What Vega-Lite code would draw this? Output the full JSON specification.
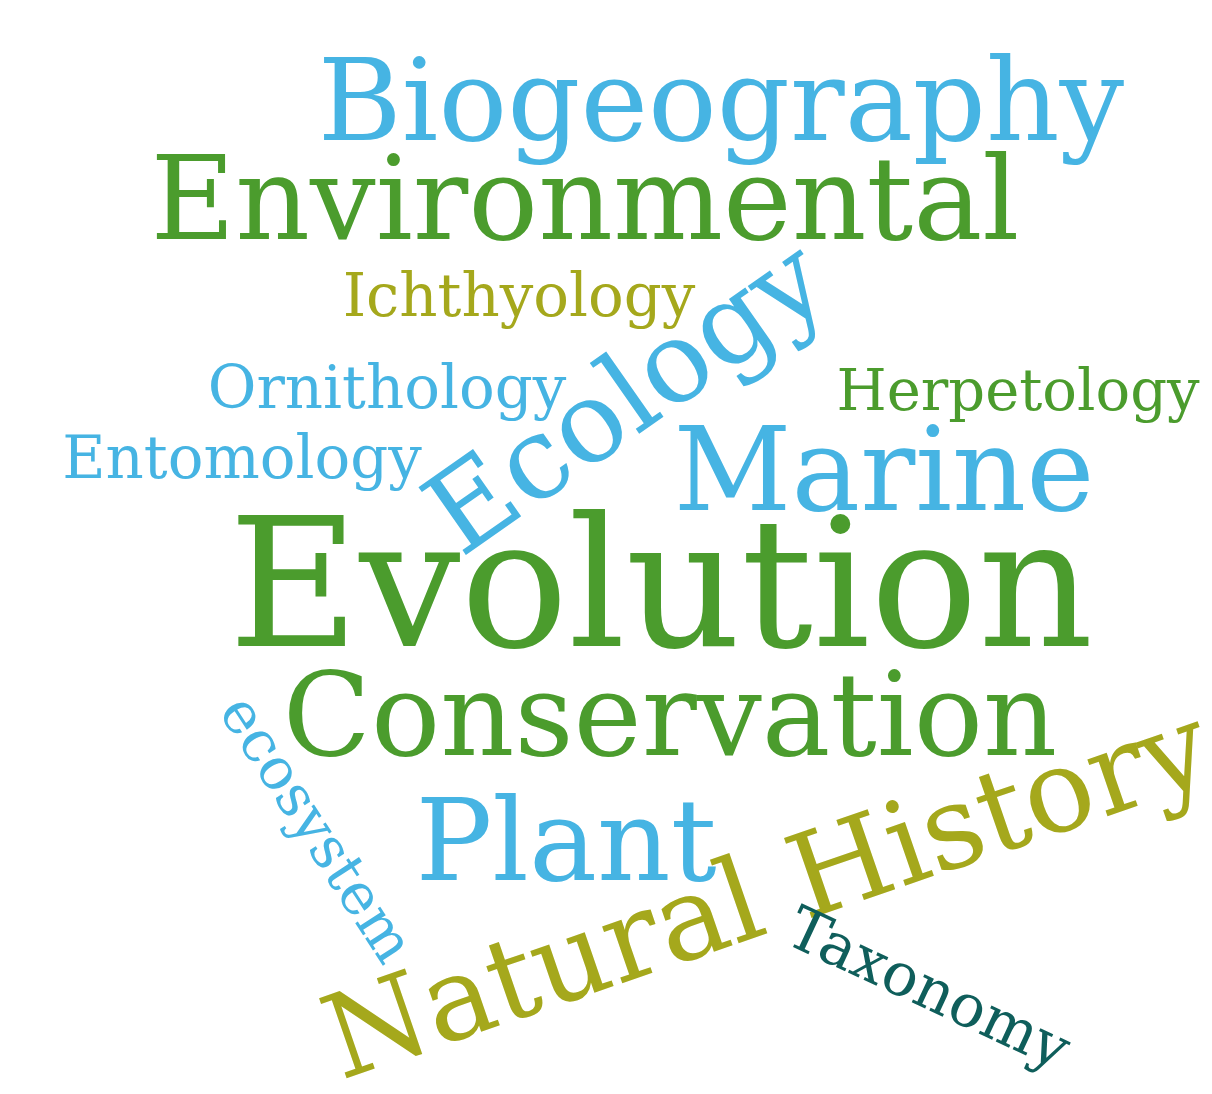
{
  "$schema": "https://vega.github.io/schema/vega-lite/v6.json",
  "width": 1212,
  "height": 1094,
  "autosize": {"type": "none"},
  "padding": 0,
  "background": "#ffffff",
  "config": {"view": {"stroke": null}},
  "data": {
    "values": [
      {"word": "Biogeography", "px": 721, "py": 106, "weight": 63.5, "angle": 0, "tone": "sky"},
      {"word": "Environmental", "px": 585, "py": 204, "weight": 64.5, "angle": 0, "tone": "leaf"},
      {"word": "Ichthyology", "px": 519, "py": 298, "weight": 33, "angle": 0, "tone": "olive"},
      {"word": "Ornithology", "px": 387, "py": 390, "weight": 33, "angle": 0, "tone": "sky"},
      {"word": "Herpetology", "px": 1018, "py": 393, "weight": 32, "angle": 0, "tone": "leaf"},
      {"word": "Entomology", "px": 242, "py": 460, "weight": 33, "angle": 0, "tone": "sky"},
      {"word": "Ecology", "px": 628, "py": 400, "weight": 63, "angle": -35, "tone": "sky"},
      {"word": "Marine", "px": 884, "py": 475, "weight": 64, "angle": 0, "tone": "sky"},
      {"word": "Evolution", "px": 661, "py": 592, "weight": 99.5, "angle": 0, "tone": "leaf"},
      {"word": "Conservation", "px": 670, "py": 720, "weight": 64, "angle": 0, "tone": "leaf"},
      {"word": "ecosystem", "px": 315, "py": 830, "weight": 32, "angle": 57, "tone": "sky"},
      {"word": "Plant", "px": 566, "py": 846, "weight": 63.5, "angle": 0, "tone": "sky"},
      {"word": "Natural History", "px": 768, "py": 896, "weight": 64.5, "angle": -19, "tone": "olive"},
      {"word": "Taxonomy", "px": 928, "py": 990, "weight": 33, "angle": 25, "tone": "teal"}
    ]
  },
  "mark": {"type": "text", "font": "DejaVu Serif", "align": "center", "baseline": "middle"},
  "encoding": {
    "text": {"field": "word", "type": "nominal"},
    "x": {"field": "px", "type": "quantitative", "scale": {"domain": [0, 1212], "nice": false, "zero": false}, "axis": null},
    "y": {"field": "py", "type": "quantitative", "scale": {"domain": [0, 1094], "nice": false, "zero": false, "reverse": true}, "axis": null},
    "size": {"field": "weight", "type": "quantitative", "scale": {"type": "linear", "domain": [0, 100], "range": [0, 180]}, "legend": null},
    "angle": {"field": "angle", "type": "quantitative", "scale": null},
    "color": {"field": "tone", "type": "nominal", "scale": {"domain": ["sky", "leaf", "olive", "teal"], "range": ["#46b4e3", "#4b9c2d", "#a5a81c", "#0f5e5b"]}, "legend": null}
  }
}
